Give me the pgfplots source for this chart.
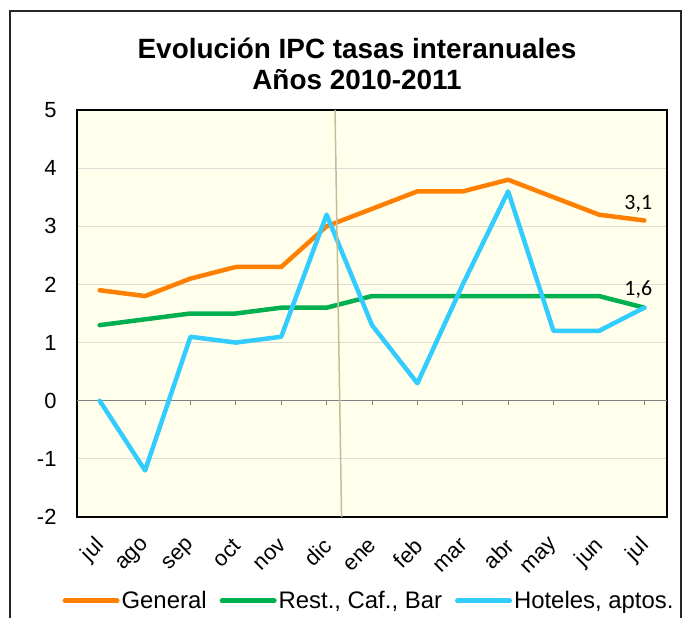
\documentclass[border=0pt]{standalone}
\usepackage{pgfplots}
\pgfplotsset{compat=1.18}
\usepackage{fontspec}
\setmainfont{Liberation Sans}
\newfontfamily\calibri{Carlito}
\definecolor{cOrange}{RGB}{255,128,0}
\definecolor{cGreen}{RGB}{0,176,80}
\definecolor{cBlue}{RGB}{51,204,255}
\definecolor{bgY}{RGB}{255,255,235}
\definecolor{gridG}{RGB}{222,222,215}
\definecolor{tanL}{RGB}{196,189,151}
\begin{document}
\begin{tikzpicture}
\path[use as bounding box] (-77bp,-101bp) rectangle (609bp,517bp);
\draw[line width=1.5bp, black!85] (-67bp,-130bp) -- (-67bp,506bp) -- (604bp,506bp) -- (604bp,-130bp);
\node[font=\fontsize{28}{30}\selectfont\bfseries] at (280bp,469bp) {Evolución IPC tasas interanuales};
\node[font=\fontsize{28}{30}\selectfont\bfseries] at (280bp,437bp) {Años 2010-2011};
\begin{axis}[at={(0,0)}, anchor=south west, scale only axis,
  width=590bp, height=407bp,
  xmin=-0.5, xmax=12.5, ymin=-2, ymax=5,
  axis background/.style={fill=bgY},
  axis line style={black, line width=1.3bp},
  xtick={0,...,12},
  xticklabels={jul,ago,sep,oct,nov,dic,ene,feb,mar,abr,may,jun,jul},
  x tick label style={xshift=4bp, yshift=-23bp, rotate=45, anchor=east, font=\fontsize{22}{22}\selectfont},
  ytick={-2,...,5},
  yticklabels={-2,-1,0,1,2,3,4,5},
  y tick label style={font=\fontsize{22}{22}\selectfont, xshift=-17bp},
  major tick length=0pt,
  ymajorgrids, grid style={gridG, line width=1bp},
  legend columns=3,
  legend style={at={(0.495,-0.206)}, anchor=center, draw=none, fill=none,
    font=\fontsize{24}{24}\selectfont,
    /tikz/every even column/.append style={column sep=11bp}},
  legend image code/.code={\draw[#1, line width=5bp, line cap=round] (0bp,0bp) -- (52bp,0bp);},
  every axis plot/.append style={line width=4.5bp, line join=round, line cap=round},
]
\draw[gray, line width=1.2bp] (axis cs:-0.5,0) -- (axis cs:12.5,0);
\pgfplotsinvokeforeach{0,...,12}{\draw[gray, line width=1bp] (axis cs:#1,0) -- ([yshift=-4bp]axis cs:#1,0);}
\addplot[cOrange] coordinates {(0,1.9) (1,1.8) (2,2.1) (3,2.3) (4,2.3) (5,3.0) (6,3.3) (7,3.6) (8,3.6) (9,3.8) (10,3.5) (11,3.2) (12,3.1)};
\addlegendentry{General}
\addplot[cGreen] coordinates {(0,1.3) (1,1.4) (2,1.5) (3,1.5) (4,1.6) (5,1.6) (6,1.8) (7,1.8) (8,1.8) (9,1.8) (10,1.8) (11,1.8) (12,1.6)};
\addlegendentry{Rest., Caf., Bar}
\addplot[cBlue] coordinates {(0,0) (1,-1.2) (2,1.1) (3,1.0) (4,1.1) (5,3.2) (6,1.3) (7,0.3) (8,2.0) (9,3.6) (10,1.2) (11,1.2) (12,1.6)};
\addlegendentry{Hoteles, aptos.}
\draw[tanL, line width=1.5bp] (axis cs:5.185,5) -- (axis cs:5.33,-2);
\node[anchor=base, font=\calibri\fontsize{22}{22}\selectfont, xshift=-6bp, yshift=11bp] at (axis cs:12,3.1) {3,1};
\node[anchor=base, font=\calibri\fontsize{22}{22}\selectfont, xshift=-6bp, yshift=12bp] at (axis cs:12,1.6) {1,6};
\end{axis}
\end{tikzpicture}
\end{document}
